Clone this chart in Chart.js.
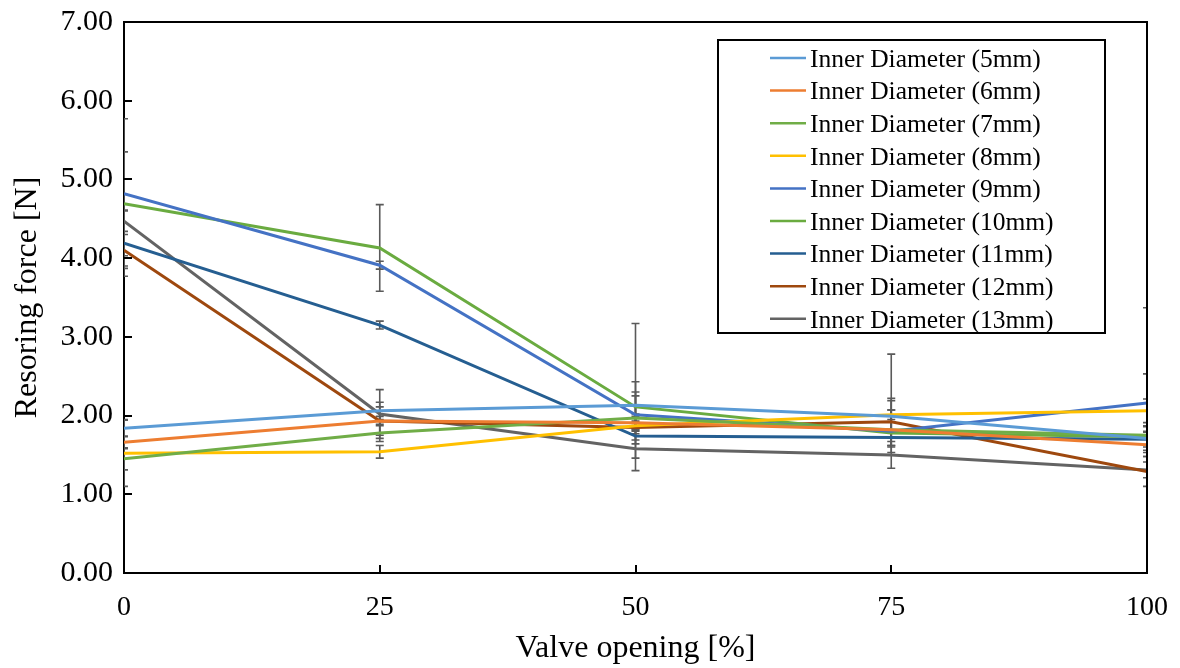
<!DOCTYPE html>
<html>
<head>
<meta charset="utf-8">
<script src="https://cdn.jsdelivr.net/npm/chart.js@4.4.1/dist/chart.umd.min.js"></script>
<style>
  html, body { margin: 0; padding: 0; background: #ffffff; }
  #wrap { width: 1180px; height: 668px; }
</style>
</head>
<body>
<div id="wrap"><canvas id="chart" width="1180" height="668"></canvas></div>
<script>
// Valve opening positions [%]
const openings = [0, 25, 50, 75, 100];

// Series labels and colours
const seriesLabels = [
  'Inner Diameter (5mm)', 'Inner Diameter (6mm)', 'Inner Diameter (7mm)',
  'Inner Diameter (8mm)', 'Inner Diameter (9mm)', 'Inner Diameter (10mm)',
  'Inner Diameter (11mm)', 'Inner Diameter (12mm)', 'Inner Diameter (13mm)'
];
const seriesColors = [
  '#5B9BD5', '#ED7D31', '#70AD47', '#FFC000', '#4472C4',
  '#6AAB40', '#255E91', '#9E480E', '#636363'
];

// Mean restoring force [N] for each inner diameter
const d5  = [1.84, 2.06, 2.13, 1.99, 1.71];
const d6  = [1.66, 1.93, 1.91, 1.82, 1.63];
const d7  = [1.45, 1.78, 1.97, 1.82, 1.75];
const d8  = [1.52, 1.54, 1.87, 2.01, 2.06];
const d9  = [4.82, 3.91, 2.01, 1.80, 2.16];
const d10 = [4.69, 4.13, 2.11, 1.78, 1.73];
const d11 = [4.19, 3.15, 1.74, 1.72, 1.70];
const d12 = [4.10, 1.93, 1.85, 1.92, 1.29];
const d13 = [4.47, 2.02, 1.58, 1.50, 1.31];
const seriesValues = [d5, d6, d7, d8, d9, d10, d11, d12, d13];

// Error bar extents (upper / lower) per series
const errPlus = [
  [0.11, 0.11, 0.30, 0.20, 0.15],
  [0.08, 0.18, 0.08, 0.10, 0.10],
  [0.14, 0.11, 0.33, 0.10, 0.12],
  [0.42, 0.08, 0.06, 0.06, 0.15],
  [0.95, 0.05, 0.24, 0.27, 0.37],
  [0.66, 0.55, 1.06, 1.00, 1.64],
  [0.42, 0.05, 0.28, 0.10, 0.10],
  [0.20, 0.06, 0.05, 0.30, 0.19],
  [0.13, 0.31, 0.28, 0.17, 0.10]
];
const errMinus = [
  [0.11, 0.11, 0.30, 0.20, 0.15],
  [0.08, 0.18, 0.08, 0.10, 0.10],
  [0.14, 0.11, 0.33, 0.10, 0.12],
  [0.42, 0.08, 0.06, 0.06, 0.15],
  [0.95, 0.05, 0.24, 0.27, 0.37],
  [0.66, 0.55, 0.42, 0.18, 0.25],
  [0.42, 0.05, 0.28, 0.10, 0.10],
  [0.20, 0.06, 0.05, 0.30, 0.19],
  [0.13, 0.31, 0.28, 0.17, 0.10]
];

// Axis ticks
const yTicks = [0, 1, 2, 3, 4, 5, 6, 7];
const xTicks = [0, 25, 50, 75, 100];

const SERIF = "'Liberation Serif', 'Times New Roman', serif";

const datasets = seriesValues.map((vals, i) => ({
  label: seriesLabels[i],
  data: vals.map((v, j) => ({ x: openings[j], y: v })),
  borderColor: seriesColors[i],
  backgroundColor: seriesColors[i],
  borderWidth: 3,
  pointRadius: 0,
  tension: 0,
  fill: false,
  errPlus: errPlus[i],
  errMinus: errMinus[i]
}));

// Gray error bars with caps
const errorBarPlugin = {
  id: 'errorBars',
  beforeDatasetsDraw(chart) {
    const { ctx, chartArea, scales } = chart;
    ctx.save();
    ctx.beginPath();
    ctx.rect(chartArea.left, chartArea.top, chartArea.right - chartArea.left, chartArea.bottom - chartArea.top);
    ctx.clip();
    ctx.strokeStyle = '#5a5a5a';
    ctx.lineWidth = 1.6;
    chart.data.datasets.forEach(ds => {
      ds.data.forEach((pt, j) => {
        const x = scales.x.getPixelForValue(pt.x);
        const yHi = scales.y.getPixelForValue(pt.y + ds.errPlus[j]);
        const yLo = scales.y.getPixelForValue(pt.y - ds.errMinus[j]);
        ctx.beginPath();
        ctx.moveTo(x, yHi); ctx.lineTo(x, yLo);
        ctx.moveTo(x - 4, yHi); ctx.lineTo(x + 4, yHi);
        ctx.moveTo(x - 4, yLo); ctx.lineTo(x + 4, yLo);
        ctx.stroke();
      });
    });
    ctx.restore();
  }
};

// Plot frame, inward tick marks and boxed legend
const framePlugin = {
  id: 'frameAndLegend',
  afterDraw(chart) {
    const { ctx, chartArea, scales } = chart;
    const { left, right, top, bottom } = chartArea;
    ctx.save();
    ctx.strokeStyle = '#000';
    ctx.lineWidth = 2;
    ctx.beginPath();
    ctx.moveTo(left, top); ctx.lineTo(right, top); ctx.lineTo(right, bottom);
    ctx.stroke();
    // inward ticks
    ctx.beginPath();
    yTicks.forEach(v => {
      const y = Math.round(scales.y.getPixelForValue(v));
      ctx.moveTo(left, y); ctx.lineTo(left + 8, y);
    });
    xTicks.forEach(v => {
      const x = Math.round(scales.x.getPixelForValue(v));
      ctx.moveTo(x, bottom); ctx.lineTo(x, bottom - 8);
    });
    ctx.stroke();

    // legend box
    const bx = 718, by = 40, bw = 387, bh = 293;
    ctx.fillStyle = '#fff';
    ctx.fillRect(bx, by, bw, bh);
    ctx.lineWidth = 2;
    ctx.strokeRect(bx, by, bw, bh);
    ctx.font = "25.5px " + SERIF;
    ctx.textBaseline = 'middle';
    ctx.textAlign = 'left';
    chart.data.datasets.forEach((ds, i) => {
      const y = 58 + i * 32.6;
      ctx.strokeStyle = ds.borderColor;
      ctx.lineWidth = 2.5;
      ctx.beginPath();
      ctx.moveTo(770, y); ctx.lineTo(806, y);
      ctx.stroke();
      ctx.fillStyle = '#000';
      ctx.fillText(ds.label, 810, y + 2);
    });
    ctx.restore();
  }
};

new Chart(document.getElementById('chart'), {
  type: 'line',
  data: { datasets },
  plugins: [errorBarPlugin, framePlugin],
  options: {
    responsive: false,
    devicePixelRatio: 1,
    animation: false,
    layout: { padding: { top: 22, right: 33, left: 0, bottom: 0 } },
    plugins: { legend: { display: false }, tooltip: { enabled: false } },
    scales: {
      x: {
        type: 'linear',
        min: 0, max: 100,
        afterBuildTicks: s => { s.ticks = xTicks.map(v => ({ value: v })); },
        afterFit: s => { s.height = 95; s.paddingLeft = 0; s.paddingRight = 0; },
        grid: { display: false, drawTicks: false },
        border: { display: true, color: '#000', width: 2 },
        ticks: { color: '#000', font: { family: SERIF, size: 28 }, padding: 18, maxRotation: 0 },
        title: { display: true, text: 'Valve opening [%]', color: '#000',
                 font: { family: SERIF, size: 32 }, padding: { top: 0, bottom: 0 } }
      },
      y: {
        min: 0, max: 7,
        afterBuildTicks: s => { s.ticks = yTicks.map(v => ({ value: v })); },
        afterFit: s => { s.width = 124; s.paddingTop = 0; s.paddingBottom = 0; },
        grid: { display: false, drawTicks: false },
        border: { display: true, color: '#000', width: 2 },
        ticks: { color: '#000', font: { family: SERIF, size: 30 }, padding: 11,
                 callback: v => Number(v).toFixed(2) },
        title: { display: true, text: 'Resoring force [N]', color: '#000',
                 font: { family: SERIF, size: 32 }, padding: { top: 8, bottom: 0 } }
      }
    }
  }
});
</script>
</body>
</html>
